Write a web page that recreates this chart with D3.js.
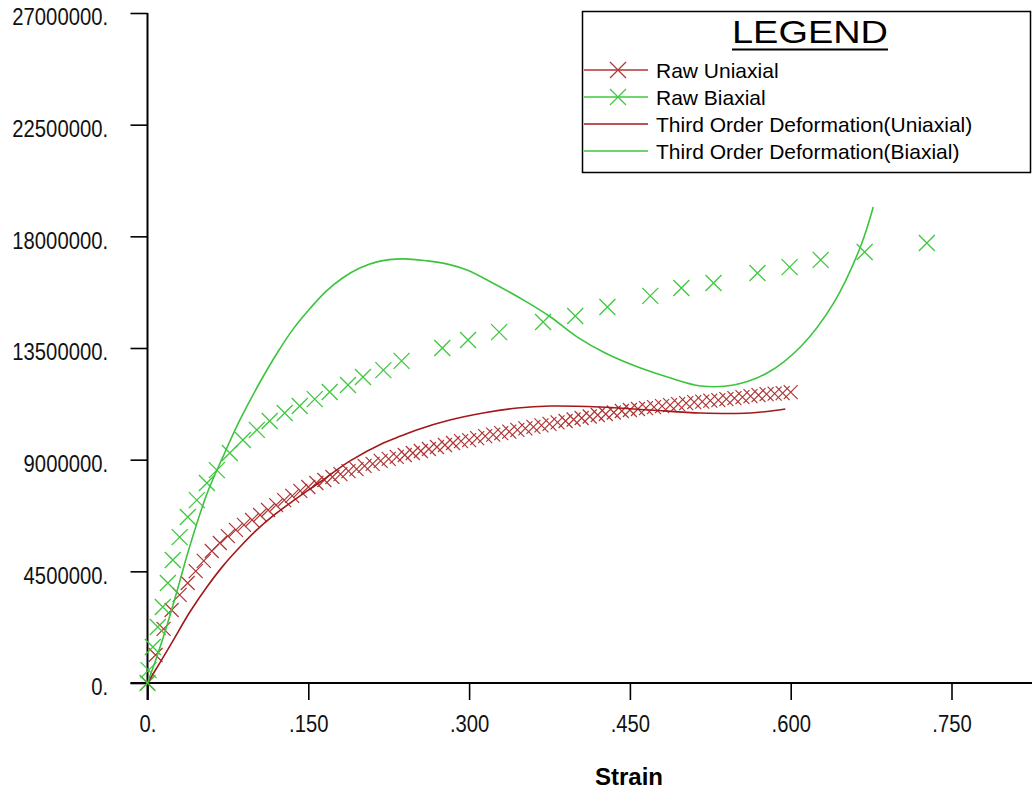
<!DOCTYPE html>
<html>
<head>
<meta charset="utf-8">
<script src="https://cdn.jsdelivr.net/npm/d3@7/dist/d3.min.js"></script>
<style>
body { margin: 0; background: #ffffff; }
.tick text { font-family: "Liberation Sans", Arial, sans-serif; font-size: 23px; fill: #111; }
.legend_tx { font-family: "Liberation Sans", Arial, sans-serif; font-size: 21px; fill: #000; }
.axis_title { font-family: "Liberation Sans", Arial, sans-serif; font-size: 24px; font-weight: bold; fill: #000; }
</style>
</head>
<body>
<div id="chart_div"></div>
<script>
// stress values are in MPa, strain is dimensionless
var uni_strain = [0, .0075, .015, .0225, .03, .0375, .045, .0525, .06, .0675, .075, .0825, .09, .0975, .105, .1125, .12, .1275, .135, .1425,
    .15, .1575, .165, .1725, .18, .1875, .195, .2025, .21, .2175, .225, .2325, .24, .2475, .255, .2625, .27, .2775, .285, .2925,
    .3, .3075, .315, .3225, .33, .3375, .345, .3525, .36, .3675, .375, .3825, .39, .3975, .405, .4125, .42, .4275, .435, .4425,
    .45, .4575, .465, .4725, .48, .4875, .495, .5025, .51, .5175, .525, .5325, .54, .5475, .555, .5625, .57, .5775, .585, .5925, .6];
var uni_stress = [0, 1.13, 2.18, 2.94, 3.55, 4.03, 4.51, 4.92, 5.32, 5.64, 5.92, 6.17, 6.37, 6.57, 6.77, 6.97, 7.17, 7.37, 7.54, 7.74,
    7.90, 8.06, 8.18, 8.30, 8.42, 8.54, 8.62, 8.75, 8.83, 8.95, 9.03, 9.11, 9.19, 9.27, 9.35, 9.43, 9.51, 9.59, 9.67, 9.75,
    9.79, 9.87, 9.95, 10.01, 10.07, 10.13, 10.20, 10.26, 10.32, 10.38, 10.44, 10.50, 10.56, 10.62, 10.68, 10.74, 10.80, 10.84, 10.90, 10.96,
    11.00, 11.04, 11.08, 11.12, 11.16, 11.20, 11.24, 11.28, 11.32, 11.34, 11.38, 11.40, 11.44, 11.48, 11.52, 11.56, 11.60, 11.64, 11.66, 11.68, 11.72];

var bi_strain = [0, .001, .005, .0096, .0143, .019, .0236, .030, .0376, .046, .0554, .0647, .0768, .089, .102, .114, .128, .142, .156, .170,
    .187, .201, .220, .237, .275, .299, .328, .369, .399, .429, .469, .498, .528, .569, .599, .628, .669, .727];
var bi_stress = [0, 0.52, 1.45, 2.26, 3.06, 4.03, 4.96, 5.88, 6.69, 7.37, 8.06, 8.58, 9.27, 9.79, 10.20, 10.56, 10.88, 11.16, 11.44, 11.73,
    12.01, 12.33, 12.61, 12.98, 13.50, 13.82, 14.14, 14.55, 14.79, 15.15, 15.60, 15.92, 16.12, 16.52, 16.76, 17.05, 17.37, 17.73];

// third order deformation fits
var fit_uni_strain = [0, .0115, .0236, .0395, .0554, .0703, .0862, .102, .117, .133, .161, .189, .220, .236, .251, .282, .313, .345, .376, .422, .469, .516, .562, .595];
var fit_uni_stress = [0, 0.81, 1.69, 2.86, 3.87, 4.71, 5.48, 6.17, 6.73, 7.25, 8.10, 8.95, 9.67, 9.95, 10.20, 10.60, 10.88, 11.08, 11.16, 11.12, 11.00, 10.88, 10.88, 11.04];

var fit_bi_strain = [0, .002, .0096, .018, .0273, .0395, .0554, .0703, .0862, .105, .121, .136, .152, .167, .182, .198, .214, .238, .261, .279,
    .298, .322, .354, .376, .401, .427, .460, .485, .516, .547, .578, .609, .640, .665, .677];
var fit_bi_stress = [0, 0.24, 1.17, 2.30, 3.67, 5.52, 7.62, 9.11, 10.60, 12.13, 13.30, 14.27, 15.11, 15.80, 16.32, 16.72, 16.97, 17.09, 17.01, 16.89,
    16.64, 16.12, 15.35, 14.75, 13.94, 13.30, 12.69, 12.33, 11.97, 12.01, 12.49, 13.54, 15.31, 17.57, 19.18];

var x_ticks = [0, .15, .30, .45, .60, .75];
var x_tick_labels = ["0.", ".150", ".300", ".450", ".600", ".750"];
var y_ticks = [0, 4.5, 9, 13.5, 18, 22.5, 27];
var y_tick_labels = ["0.", "4500000.", "9000000.", "13500000.", "18000000.", "22500000.", "27000000."];

var legend_names = ["Raw Uniaxial", "Raw Biaxial", "Third Order Deformation(Uniaxial)", "Third Order Deformation(Biaxial)"];
var legend_colors = ["#b03535", "#3ec83e", "#a31818", "#3cc43c"];
var legend_marks = [true, true, false, false];

var svg = d3.select("#chart_div")
    .append("svg")
    .attr("width", 1032)
    .attr("height", 791)
    .style("display", "block")
    .style("background", "#ffffff");

var x = d3.scaleLinear().domain([0, 0.75]).range([147.5, 951.5]);
var y = d3.scaleLinear().domain([0, 27]).range([683, 13]);

// axes, tick text squeezed a bit to get the narrow look of the original
var squeeze = 0.88;

var x_axis = svg.append("g")
    .attr("transform", "translate(0," + y(0) + ")")
    .call(d3.axisBottom(x)
        .tickValues(x_ticks)
        .tickSize(17)
        .tickPadding(16)
        .tickFormat(function(d, i) { return x_tick_labels[i]; }));
x_axis.select(".domain").remove();
x_axis.selectAll(".tick line").attr("stroke", "#000").attr("stroke-width", 1.6);
x_axis.selectAll(".tick text").attr("transform", "scale(" + squeeze + ",1)");

var y_axis = svg.append("g")
    .attr("transform", "translate(" + x(0) + ",0)")
    .call(d3.axisLeft(y)
        .tickValues(y_ticks)
        .tickSize(17)
        .tickPadding(22)
        .tickFormat(function(d, i) { return y_tick_labels[i]; }));
y_axis.select(".domain").remove();
y_axis.selectAll(".tick line").attr("stroke", "#000").attr("stroke-width", 1.6);
y_axis.selectAll(".tick text")
    .attr("dy", "0.52em")
    .attr("x", -39.5 / squeeze)
    .attr("transform", "scale(" + squeeze + ",1)");

svg.append("line")
    .attr("x1", x(0) - 17).attr("x2", 1032)
    .attr("y1", y(0)).attr("y2", y(0))
    .attr("stroke", "#000").attr("stroke-width", 2);
svg.append("line")
    .attr("x1", x(0)).attr("x2", x(0))
    .attr("y1", y(27)).attr("y2", y(0) + 17)
    .attr("stroke", "#000").attr("stroke-width", 2);

svg.append("text")
    .attr("class", "axis_title")
    .attr("x", 629)
    .attr("y", 785)
    .attr("text-anchor", "middle")
    .text("Strain");

// curves
var line = d3.line()
    .x(function(d) { return x(d[0]); })
    .y(function(d) { return y(d[1]); })
    .curve(d3.curveCatmullRom);

var fit_uni = d3.zip(fit_uni_strain, fit_uni_stress);
var fit_bi = d3.zip(fit_bi_strain, fit_bi_stress);
var raw_uni = d3.zip(uni_strain, uni_stress);
var raw_bi = d3.zip(bi_strain, bi_stress);

var x_mark = "M-7,-7L7,7M-7,7L7,-7";
var x_mark_big = "M-8,-8L8,8M-8,8L8,-8";

svg.append("g")
    .selectAll("path")
    .data(raw_uni)
    .enter()
    .append("path")
    .attr("d", x_mark)
    .attr("transform", function(d) { return "translate(" + x(d[0]) + "," + y(d[1]) + ")"; })
    .attr("fill", "none")
    .attr("stroke", legend_colors[0])
    .attr("stroke-width", 1.2);

svg.append("g")
    .selectAll("path")
    .data(raw_bi)
    .enter()
    .append("path")
    .attr("d", x_mark_big)
    .attr("transform", function(d) { return "translate(" + x(d[0]) + "," + y(d[1]) + ")"; })
    .attr("fill", "none")
    .attr("stroke", legend_colors[1])
    .attr("stroke-width", 1.3);

svg.append("path")
    .datum(fit_uni)
    .attr("d", line)
    .attr("fill", "none")
    .attr("stroke", legend_colors[2])
    .attr("stroke-width", 1.6);

svg.append("path")
    .datum(fit_bi)
    .attr("d", line)
    .attr("fill", "none")
    .attr("stroke", legend_colors[3])
    .attr("stroke-width", 1.6);

// legend
var legend = svg.append("g").attr("id", "legend_g");
legend.append("rect")
    .attr("x", 582.5).attr("y", 11.5)
    .attr("width", 448).attr("height", 161)
    .attr("fill", "#fff")
    .attr("stroke", "#000")
    .attr("stroke-width", 1.5);
legend.append("text")
    .attr("x", 732)
    .attr("y", 43)
    .attr("textLength", 156)
    .attr("lengthAdjust", "spacingAndGlyphs")
    .style("font-family", "Liberation Sans, Arial, sans-serif")
    .style("font-size", "31px")
    .text("LEGEND");
legend.append("line")
    .attr("x1", 732).attr("x2", 888)
    .attr("y1", 49.5).attr("y2", 49.5)
    .attr("stroke", "#000").attr("stroke-width", 2);

var rows = legend.selectAll(".legend_row")
    .data(legend_names)
    .enter()
    .append("g")
    .attr("class", "legend_row")
    .attr("transform", function(d, i) { return "translate(0," + (70 + i * 27) + ")"; });
rows.append("line")
    .attr("x1", 584).attr("x2", 648)
    .attr("y1", 0).attr("y2", 0)
    .attr("stroke", function(d, i) { return legend_colors[i]; })
    .attr("stroke-width", 1.5);
rows.filter(function(d, i) { return legend_marks[i]; })
    .append("path")
    .attr("d", x_mark_big)
    .attr("transform", "translate(618,0)")
    .attr("fill", "none")
    .attr("stroke", function(d) { return legend_colors[legend_names.indexOf(d)]; })
    .attr("stroke-width", 1.2);
rows.append("text")
    .attr("class", "legend_tx")
    .attr("x", 656)
    .attr("y", 7.5)
    .text(function(d) { return d; });
</script>
</body>
</html>
